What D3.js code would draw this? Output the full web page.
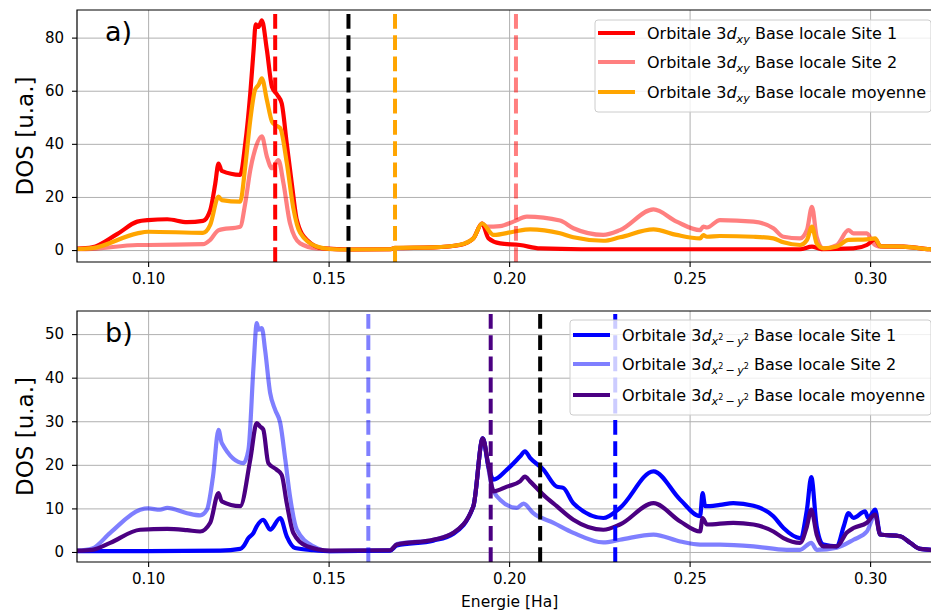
<!DOCTYPE html>
<html><head><meta charset="utf-8">
<script src="https://cdn.jsdelivr.net/npm/d3@7"></script>
<style>
body{margin:0;background:#fff}
text{font-family:"DejaVu Sans",sans-serif;fill:#000}
</style></head><body>
<svg id="c" width="931" height="613"></svg>
<script>
// ---------- data ----------
const xTicks = [0.10, 0.15, 0.20, 0.25, 0.30];
const yTicksA = [0, 20, 40, 60, 80];
const yTicksB = [0, 10, 20, 30, 40, 50];

// Panel a) 3d_xy  [energy (Ha), DOS]
const xySite1 = [[0.0803,0.5],[0.0845,1.0],[0.0914,6.0],[0.0970,10.7],[0.1000,11.3],[0.1053,11.6],[0.1108,10.5],[0.1152,11.0],[0.1172,15],[0.1186,25],[0.1195,32.6],[0.1204,29.8],[0.1255,28.3],[0.1269,40],[0.1283,59],[0.1292,75],[0.1298,85],[0.1306,84],[0.1315,86.5],[0.1329,75.4],[0.1343,61.5],[0.1358,58.4],[0.1370,55.3],[0.1384,40.2],[0.1398,25.1],[0.1412,11.3],[0.1440,3.8],[0.1486,0.6],[0.1560,0.2],[0.1670,0.3],[0.1684,0.7],[0.1790,1.0],[0.1864,1.9],[0.1901,4.4],[0.1925,10.0],[0.1943,4.4],[0.1975,2.5],[0.2030,1.9],[0.2086,0.6],[0.2200,0.3],[0.2500,0.3],[0.2806,0.3],[0.2839,1.3],[0.2865,0.3],[0.2954,0.6],[0.2991,1.9],[0.3014,4.0],[0.3028,1.5],[0.3092,1.3],[0.3166,0.3],[0.3200,0.2]];
const xySite2 = [[0.0803,0.3],[0.0845,0.4],[0.0970,1.9],[0.1000,1.9],[0.1152,2.2],[0.1172,3.8],[0.1195,7.5],[0.1255,8.8],[0.1269,17.6],[0.1283,30.1],[0.1296,37.7],[0.1315,42.8],[0.1329,35.2],[0.1343,30.8],[0.1361,33.9],[0.1375,25.1],[0.1393,10.1],[0.1421,2.5],[0.1467,0.6],[0.1560,0.2],[0.1670,0.3],[0.1684,0.8],[0.1790,1.0],[0.1864,2.0],[0.1901,4.4],[0.1925,10.0],[0.1938,8.8],[0.1975,9.0],[0.2012,10.7],[0.2049,12.6],[0.2141,11.1],[0.2178,8.2],[0.2261,5.7],[0.2307,7.5],[0.2400,15.3],[0.2464,10.7],[0.2529,7.5],[0.2538,8.8],[0.2548,8.5],[0.2584,11.3],[0.2677,10.7],[0.2732,8.2],[0.2760,5.0],[0.2806,4.4],[0.2825,7.5],[0.2839,16.3],[0.2852,5.0],[0.2871,0.6],[0.2908,1.9],[0.2940,7.5],[0.2954,6.3],[0.2991,6.3],[0.3009,2.5],[0.3028,1.3],[0.3092,1.3],[0.3166,0.3],[0.3200,0.2]];
const xyMean = [[0.0803,0.4],[0.0845,0.7],[0.0970,6.3],[0.1000,6.9],[0.1152,6.5],[0.1172,9.5],[0.1195,20.1],[0.1204,18.8],[0.1255,18.2],[0.1269,31.4],[0.1283,49],[0.1296,60.3],[0.1306,62.2],[0.1315,64.7],[0.1329,56.5],[0.1343,48.4],[0.1352,47.1],[0.1366,45.9],[0.1384,33],[0.1402,16],[0.1421,6.5],[0.1467,1.3],[0.1504,0.4],[0.1560,0.2],[0.1670,0.3],[0.1684,0.8],[0.1790,1.0],[0.1864,2.0],[0.1901,4.4],[0.1925,10.0],[0.1957,5.7],[0.2012,6.9],[0.2058,7.8],[0.2141,6.3],[0.2178,4.8],[0.2261,3.5],[0.2307,4.8],[0.2400,7.8],[0.2464,5.7],[0.2529,4.4],[0.2538,5.6],[0.2548,5.0],[0.2584,5.3],[0.2677,5.0],[0.2732,4.4],[0.2760,2.9],[0.2806,1.9],[0.2825,3.8],[0.2839,8.8],[0.2852,2.5],[0.2871,0.6],[0.2908,1.3],[0.2940,3.8],[0.2991,4.0],[0.3014,4.4],[0.3028,1.5],[0.3092,1.3],[0.3166,0.3],[0.3200,0.2]];

// Panel b) 3d_{x2-y2}
const x2y2Site1 = [[0.0803,0.2],[0.1000,0.2],[0.1200,0.3],[0.1255,0.7],[0.1264,1.3],[0.1278,3.2],[0.1292,4.4],[0.1301,5.9],[0.1319,7.4],[0.1338,5.1],[0.1366,7.8],[0.1384,3.6],[0.1407,0.9],[0.1458,0.4],[0.1504,0.2],[0.1670,0.3],[0.1689,1.5],[0.1790,2.6],[0.1846,4.2],[0.1901,10.5],[0.1927,26.1],[0.1943,19.6],[0.1957,16.6],[0.1994,18.9],[0.2030,21.9],[0.2044,23.1],[0.2058,21.6],[0.2095,18.9],[0.2132,15],[0.2150,14.7],[0.2178,11.2],[0.2261,7.8],[0.2307,10.1],[0.2400,18.5],[0.2474,12],[0.2529,8.2],[0.2536,13.5],[0.2543,10.5],[0.2584,10.8],[0.2621,11.2],[0.2677,10.6],[0.2732,8.2],[0.2760,5.5],[0.2806,3.2],[0.2825,9.7],[0.2837,17.2],[0.2852,5.9],[0.2871,1.7],[0.2908,1.3],[0.2927,5.9],[0.2940,8.9],[0.2954,7.8],[0.2986,9.3],[0.2995,7.8],[0.3014,9.7],[0.3028,4.0],[0.3083,3.6],[0.3111,2.1],[0.3139,0.7],[0.3200,0.4]];
const x2y2Site2 = [[0.0803,0.3],[0.0845,0.8],[0.0895,4.4],[0.0978,9.7],[0.1000,10],[0.1033,9.7],[0.1053,10.1],[0.1108,8.9],[0.1144,8.4],[0.1163,9.7],[0.1180,17.5],[0.1195,28],[0.1204,25],[0.1264,20.4],[0.1278,23.5],[0.1292,42.6],[0.1301,52.5],[0.1306,51],[0.1315,51.4],[0.1324,46.4],[0.1338,36.5],[0.1352,32.6],[0.1366,29.6],[0.1380,21.2],[0.1393,12.8],[0.1412,5.1],[0.1458,1.3],[0.1504,0.2],[0.1670,0.3],[0.1689,1.8],[0.1790,2.8],[0.1846,4.4],[0.1901,10.5],[0.1927,26.1],[0.1943,19],[0.1952,15],[0.1975,12],[0.2021,10.1],[0.2040,11.1],[0.2067,8.9],[0.2123,6.7],[0.2178,4.4],[0.2261,2.2],[0.2307,2.8],[0.2400,4.0],[0.2474,2.4],[0.2529,1.7],[0.2584,1.7],[0.2677,1.3],[0.2769,0.5],[0.2806,0.5],[0.2837,2.1],[0.2852,0.5],[0.2908,1.0],[0.2954,2.8],[0.2991,4.7],[0.3014,8.5],[0.3028,4.0],[0.3083,3.6],[0.3111,2.1],[0.3139,0.7],[0.3200,0.4]];
const x2y2Mean = [[0.0803,0.3],[0.0845,0.5],[0.0895,2.1],[0.0978,5.1],[0.1053,5.3],[0.1108,5.0],[0.1144,4.7],[0.1172,6.7],[0.1195,13.5],[0.1204,11.6],[0.1255,10.5],[0.1283,21.2],[0.1301,29.6],[0.1310,28.8],[0.1319,28.1],[0.1333,20.4],[0.1356,18.9],[0.1370,17.7],[0.1384,11.2],[0.1402,4.4],[0.1440,1.3],[0.1504,0.3],[0.1670,0.4],[0.1689,1.7],[0.1790,2.8],[0.1846,4.4],[0.1901,10.5],[0.1927,26.1],[0.1943,19.6],[0.1957,13.9],[0.1994,15],[0.2030,16.2],[0.2044,17.3],[0.2058,16.2],[0.2095,13.1],[0.2132,10.5],[0.2178,7.4],[0.2261,5.1],[0.2307,6.3],[0.2400,11.2],[0.2474,7],[0.2529,4.7],[0.2536,7.8],[0.2548,6.3],[0.2621,6.7],[0.2677,6.3],[0.2732,4.7],[0.2760,3.2],[0.2806,2.1],[0.2825,5.9],[0.2837,9.7],[0.2852,4.0],[0.2871,1.3],[0.2908,1.3],[0.2935,4.4],[0.2954,5.5],[0.2991,6.7],[0.3014,8.6],[0.3028,4.0],[0.3083,3.6],[0.3111,2.1],[0.3139,0.7],[0.3200,0.4]];

// vertical dashed markers (energies): Site1, black, mean, Site2 / Site2, mean, black, Site1
const vlinesA = [0.1352, 0.1555, 0.1684, 0.2019];
const vlinesB = [0.1610, 0.1949, 0.2086, 0.2294];

const legendSuffix = ["Base locale Site 1", "Base locale Site 2", "Base locale moyenne"];

// ---------- drawing ----------
const svg = d3.select("#c");
const L = 77, R = 942.3;
const x = d3.scaleLinear().domain([0.0803, 0.32]).range([L, R]);

const panels = [
  {top:10, bottom:262, dom:[-4.5,90.4], ticks:yTicksA, series:[xySite1,xySite2,xyMean],
   colors:["#ff0000","#ff0000","#ffa500"], op:[1,0.5,1],
   vl:vlinesA, vlc:["#ff0000","#000000","#ffa500","#ff0000"], vlo:[1,1,1,0.5],
   label:"a)", kind:"xy", leg:{x:595, y:20, w:336, h:92, rows:[33,62,92], lx0:598, lx1:635, tx:647}},
  {top:311, bottom:562, dom:[-2.3,55.3], ticks:yTicksB, series:[x2y2Site1,x2y2Site2,x2y2Mean],
   colors:["#0000ff","#0000ff","#4b0082"], op:[1,0.5,1],
   vl:vlinesB, vlc:["#0000ff","#4b0082","#000000","#0000ff"], vlo:[0.5,1,1,1],
   label:"b)", kind:"x2y2", leg:{x:570, y:320, w:361, h:95, rows:[335,364,395], lx0:573, lx1:610, tx:622}}
];

const fsTick = 15, fsLeg = 16;

panels.forEach((p, i) => {
  const y = d3.scaleLinear().domain(p.dom).range([p.bottom, p.top]);
  const H = p.bottom - p.top;
  const g = svg.append("g");
  const cid = "clip" + i;
  svg.append("defs").append("clipPath").attr("id", cid)
    .append("rect").attr("x", L).attr("y", p.top).attr("width", R - L).attr("height", H);

  // grid
  g.append("g").attr("transform", `translate(0,${p.bottom})`)
    .call(d3.axisBottom(x).tickValues(xTicks).tickSize(-H).tickFormat(""))
    .call(s => { s.select(".domain").remove(); s.selectAll("line").attr("stroke", "#b0b0b0").attr("stroke-width", 1); });
  g.append("g").attr("transform", `translate(${L},0)`)
    .call(d3.axisLeft(y).tickValues(p.ticks).tickSize(-(R - L)).tickFormat(""))
    .call(s => { s.select(".domain").remove(); s.selectAll("line").attr("stroke", "#b0b0b0").attr("stroke-width", 1); });

  // curves
  const line = d3.line().curve(d3.curveMonotoneX).x(d => x(d[0])).y(d => y(d[1]));
  const cg = g.append("g").attr("clip-path", `url(#${cid})`);
  p.series.forEach((s, k) => {
    cg.append("path").datum(s).attr("d", line)
      .attr("fill", "none").attr("stroke", p.colors[k]).attr("stroke-opacity", p.op[k])
      .attr("stroke-width", 4.2).attr("stroke-linejoin", "round").attr("stroke-linecap", "butt");
  });
  // vertical dashed lines (drawn bottom -> top)
  p.vl.forEach((e, k) => {
    cg.append("line").attr("x1", x(e)).attr("x2", x(e)).attr("y1", p.bottom).attr("y2", p.top)
      .attr("stroke", p.vlc[k]).attr("stroke-opacity", p.vlo[k]).attr("stroke-width", 4)
      .attr("stroke-dasharray", "14.8,6.4");
  });

  // axes
  const ax = g.append("g").attr("transform", `translate(0,${p.bottom})`)
    .call(d3.axisBottom(x).tickValues(xTicks).tickSize(5).tickPadding(6).tickFormat(d3.format(".2f")));
  const ay = g.append("g").attr("transform", `translate(${L},0)`)
    .call(d3.axisLeft(y).tickValues(p.ticks).tickSize(5).tickPadding(8).tickFormat(d3.format("d")));
  [ax, ay].forEach(a => {
    a.select(".domain").remove();
    a.selectAll("line").attr("stroke", "#000").attr("stroke-width", 1.1);
    a.selectAll("text").attr("font-size", fsTick).attr("font-family", "DejaVu Sans").attr("fill", "#222");
  });
  // spines (top, left, bottom)
  g.append("path").attr("d", `M${R},${p.top}H${L}V${p.bottom}H${R}`)
    .attr("fill", "none").attr("stroke", "#000").attr("stroke-width", 1.2);

  // y label
  g.append("text").attr("transform", `translate(33,${(p.top + p.bottom) / 2}) rotate(-90)`)
    .attr("text-anchor", "middle").attr("font-size", 23).attr("fill", "#111").text("DOS [u.a.]");
  // panel label
  g.append("text").attr("x", 105).attr("y", p.top + 31).attr("font-size", 27).attr("fill", "#111").text(p.label);

  // legend
  const lg = p.leg;
  g.append("rect").attr("x", lg.x).attr("y", lg.y).attr("width", lg.w).attr("height", lg.h)
    .attr("rx", 3).attr("fill", "#fff").attr("fill-opacity", 0.8).attr("stroke", "#cccccc").attr("stroke-width", 1);
  lg.rows.forEach((ry, k) => {
    g.append("line").attr("x1", lg.lx0).attr("x2", lg.lx1).attr("y1", ry).attr("y2", ry)
      .attr("stroke", p.colors[k]).attr("stroke-opacity", p.op[k]).attr("stroke-width", 4.2);
    const t = g.append("text").attr("x", lg.tx).attr("y", ry + 6).attr("font-size", fsLeg).attr("fill", "#222");
    t.append("tspan").text("Orbitale 3");
    t.append("tspan").attr("font-style", "italic").text("d");
    if (p.kind === "xy") {
      t.append("tspan").attr("font-style", "italic").attr("font-size", fsLeg * 0.7).attr("dy", 3.5).text("xy");
      t.append("tspan").attr("dy", -3.5).attr("font-size", fsLeg).text("\u00a0" + legendSuffix[k]);
    } else {
      t.append("tspan").attr("font-style", "italic").attr("font-size", fsLeg * 0.7).attr("dy", 3.5).text("x");
      t.append("tspan").attr("font-size", fsLeg * 0.5).attr("dy", -4.5).text("2");
      t.append("tspan").attr("font-size", fsLeg * 0.7).attr("dy", 4.5).text("\u2009\u2212\u2009");
      t.append("tspan").attr("font-style", "italic").attr("font-size", fsLeg * 0.7).text("y");
      t.append("tspan").attr("font-size", fsLeg * 0.5).attr("dy", -4.5).text("2");
      t.append("tspan").attr("dy", 1).attr("font-size", fsLeg).text("\u00a0" + legendSuffix[k]);
    }
  });
});

// x label
svg.append("text").attr("x", (L + R) / 2).attr("y", 607).attr("text-anchor", "middle")
  .attr("font-size", 15.5).attr("fill", "#222").text("Energie [Ha]");
</script>
</body></html>
